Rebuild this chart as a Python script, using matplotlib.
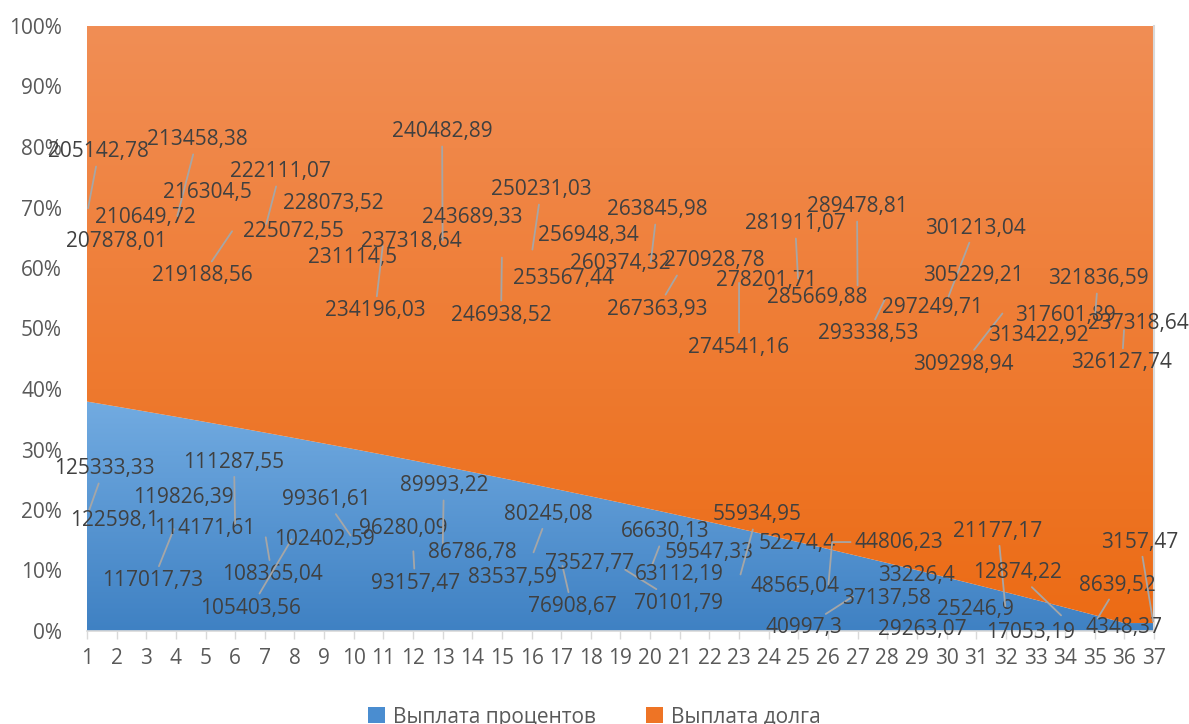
import numpy as np
import matplotlib
matplotlib.use("Agg")
import matplotlib.pyplot as plt
from matplotlib.colors import LinearSegmentedColormap
from matplotlib.patches import Patch

plt.rcParams['font.family'] = ['Open Sans', 'DejaVu Sans']

# payment number and the two parts of each payment
periods = list(range(1, 38))
interest = [125333.33, 122598.1, 119826.39, 117017.73, 114171.61, 111287.55, 108365.04,
            105403.56, 102402.59, 99361.61, 96280.09, 93157.47, 89993.22, 86786.78,
            83537.59, 80245.08, 76908.67, 73527.77, 70101.79, 66630.13, 63112.19,
            59547.33, 55934.95, 52274.4, 48565.04, 44806.23, 40997.3, 37137.58,
            33226.4, 29263.07, 25246.9, 21177.17, 17053.19, 12874.22, 8639.52,
            4348.37, 3157.47]
principal = [205142.78, 207878.01, 210649.72, 213458.38, 216304.5, 219188.56, 222111.07,
             225072.55, 228073.52, 231114.5, 234196.03, 237318.64, 240482.89, 243689.33,
             246938.52, 250231.03, 253567.44, 256948.34, 260374.32, 263845.98, 267363.93,
             270928.78, 274541.16, 278201.71, 281911.07, 285669.88, 289478.81, 293338.53,
             297249.71, 301213.04, 305229.21, 309298.94, 313422.92, 317601.89, 321836.59,
             326127.74, 237318.64]
series_names = ['Выплата процентов', 'Выплата долга']

# hand-placed label centres (x in payment number, y in percent)
principal_label_pos = [(1.40, 79.2), (1.98, 64.3), (2.96, 68.4), (4.71, 81.2), (5.05, 72.4),
                       (4.88, 58.7), (7.51, 75.9), (7.95, 66.1), (9.30, 70.6), (9.97, 61.7),
                       (10.72, 52.9), (11.96, 64.3), (12.98, 82.5), (13.99, 68.3), (14.97, 52.2),
                       (16.32, 72.9), (17.06, 58.3), (17.90, 65.3), (18.98, 60.8), (20.23, 69.6),
                       (20.23, 53.2), (22.15, 61.3), (23.00, 46.9), (23.94, 58.0), (24.89, 67.3),
                       (25.63, 55.2), (26.98, 70.1), (27.35, 49.1), (29.51, 53.4), (30.96, 66.6),
                       (30.89, 58.8), (30.55, 44.1), (33.09, 48.9), (34.00, 52.2), (35.11, 58.2),
                       (35.92, 44.3), (36.46, 50.9)]
interest_label_pos = [(1.57, 26.8), (1.94, 18.3), (4.24, 22.0), (3.23, 8.3), (4.98, 17.0),
                      (5.96, 27.9), (7.24, 9.3), (6.53, 3.8), (9.00, 15.2), (9.06, 21.7),
                      (11.66, 17.0), (12.07, 7.9), (13.04, 24.0), (13.99, 12.9), (15.34, 8.9),
                      (16.55, 19.3), (17.36, 4.0), (17.97, 11.1), (20.97, 4.6), (20.50, 16.4),
                      (20.97, 9.3), (21.99, 12.9), (23.60, 19.2), (24.95, 14.4), (24.89, 7.3),
                      (28.40, 14.7), (25.19, 0.5), (27.99, 5.3), (29.00, 9.1), (29.17, 0.3),
                      (30.99, 3.6), (31.74, 16.5), (32.82, -0.3), (32.38, 9.6), (35.78, 7.6),
                      (35.99, 0.5), (36.53, 14.7)]
# labels that were dragged away get a leader line
principal_leaders = {1, 4, 6, 7, 11, 13, 15, 16, 20, 21, 23, 25, 27, 28, 30, 32, 35, 36}
interest_leaders = {1, 4, 6, 7, 8, 10, 12, 13, 16, 17, 19, 20, 23, 25, 26, 27, 32, 34, 35, 37}
interest_elbow = {26}

x = np.array(periods)
inter = np.array(interest)
princ = np.array(principal)
total = inter + princ
pct_i = inter / total * 100
pct_p = princ / total * 100

fig = plt.figure(figsize=(11.89, 7.24), dpi=100)
W, H = 1189, 724
ax = fig.add_axes([87 / W, (H - 631) / H, (1154 - 87) / W, (631 - 26) / H])


def gradient_fill(lo, hi, c_top, c_bottom, y0, y1):
    poly = ax.fill_between(x, lo, hi, facecolor='none', edgecolor='none', lw=0)
    cmap = LinearSegmentedColormap.from_list('g', [c_bottom, c_top])
    grad = np.linspace(0, 1, 256).reshape(-1, 1)
    im = ax.imshow(grad, extent=[1, 37, y0, y1], origin='lower', aspect='auto',
                   cmap=cmap, zorder=1, interpolation='bilinear')
    im.set_clip_path(poly.get_paths()[0], transform=ax.transData)


gradient_fill(np.zeros_like(pct_i), pct_i, '#72ABE1', '#3F81C3', 0, pct_i.max())
gradient_fill(pct_i, np.full_like(pct_i, 100), '#F18E55', '#EC6B14', 0, 100)

ax.set_xlim(1, 37)
ax.set_ylim(0, 100)


def fmt(v):
    return f"{v:.2f}".rstrip('0').rstrip('.').replace('.', ',')


def leader(elbow=False):
    kw = dict(arrowstyle='-', color='#A6A6A6', lw=1.3, shrinkA=1, shrinkB=4)
    if elbow:
        kw['connectionstyle'] = 'angle,angleA=180,angleB=85,rad=0'
    return kw


for i, (v, pos) in enumerate(zip(principal, principal_label_pos)):
    mid = pct_i[i] + pct_p[i] / 2
    props = leader() if (i + 1) in principal_leaders else None
    ax.annotate(fmt(v), xy=(x[i], mid), xytext=pos, textcoords='data',
                ha='center', va='center', fontsize=15, color='#404040',
                arrowprops=props, zorder=5, annotation_clip=False)

for i, (v, pos) in enumerate(zip(interest, interest_label_pos)):
    mid = pct_i[i] / 2
    props = leader((i + 1) in interest_elbow) if (i + 1) in interest_leaders else None
    ax.annotate(fmt(v), xy=(x[i], mid), xytext=pos, textcoords='data',
                ha='center', va='center', fontsize=15, color='#404040',
                arrowprops=props, zorder=5, annotation_clip=False)

ax.set_xticks(periods)
ax.set_yticks(range(0, 101, 10))
ax.set_yticklabels([f"{p}%" for p in range(0, 101, 10)])
ax.tick_params(axis='y', length=0, pad=18, labelsize=15, labelcolor='#595959')
ax.tick_params(axis='x', length=6, width=1, color='#D9D9D9', pad=6,
               labelsize=15, labelcolor='#595959')
for side in ['top', 'left']:
    ax.spines[side].set_visible(False)
ax.spines['bottom'].set_color('#D9D9D9')
ax.spines['bottom'].set_linewidth(1.2)
ax.spines['right'].set_color('#D9D9D9')
ax.spines['right'].set_linewidth(1.5)

handles = [Patch(facecolor='#4A8DD0'), Patch(facecolor='#EE7425')]
fig.legend(handles, series_names, loc='center', bbox_to_anchor=(0.5, (H - 717) / H),
           ncol=2, frameon=False, fontsize=15, labelcolor='#595959',
           handlelength=0.8, handleheight=0.8, handletextpad=0.4, columnspacing=2.4)

fig.savefig('out.png', dpi=100)
